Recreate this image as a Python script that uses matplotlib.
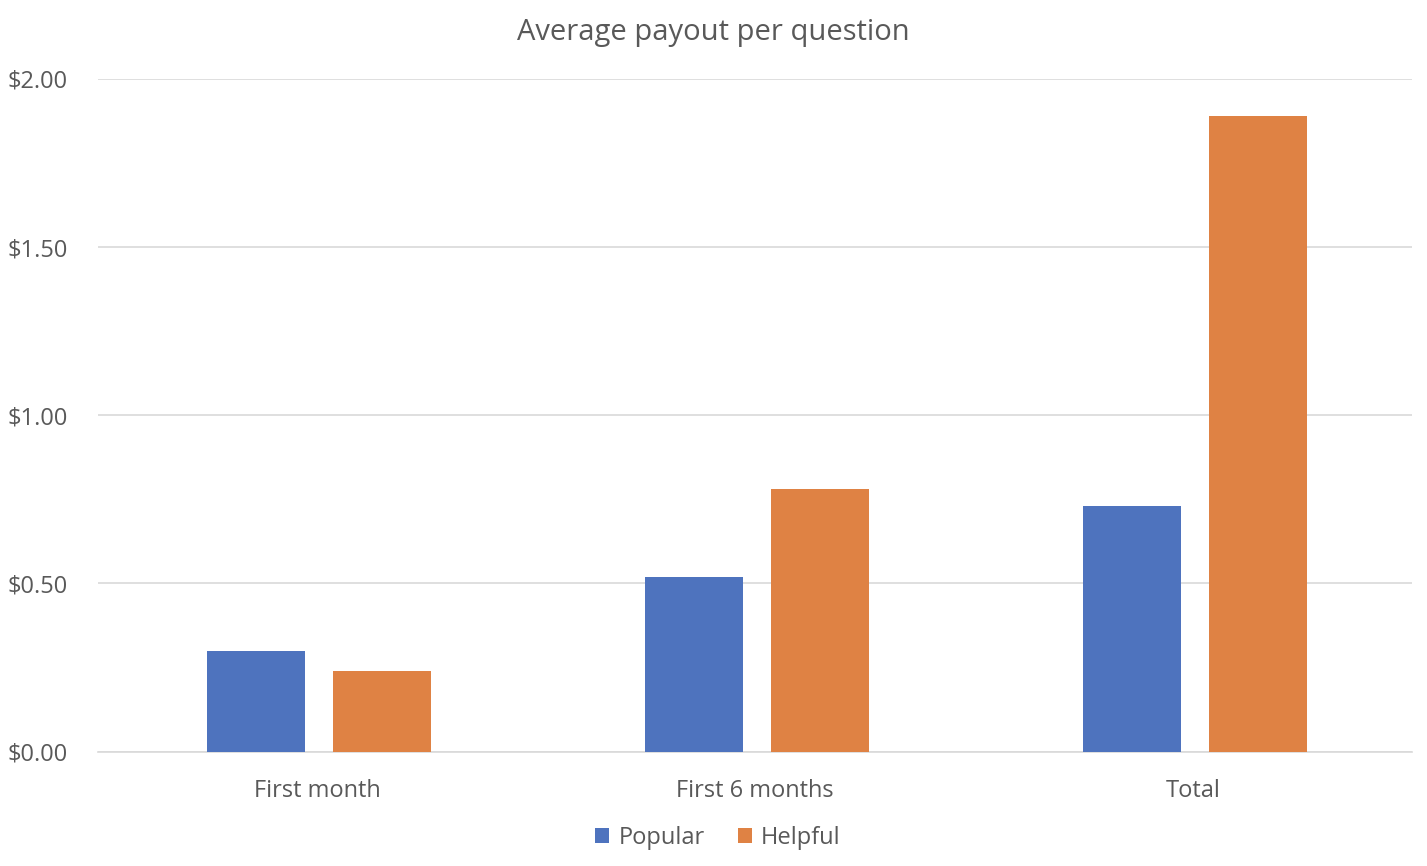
import matplotlib.pyplot as plt
import numpy as np
from matplotlib.ticker import FuncFormatter

categories = ["First month", "First 6 months", "Total"]
popular = [0.30, 0.52, 0.73]
helpful = [0.24, 0.78, 1.89]

plt.rcParams['font.family'] = ['Open Sans', 'DejaVu Sans']
grey = "#595959"

fig = plt.figure(figsize=(14.27, 8.66), dpi=100)
ax = fig.add_axes([0.0687, 0.1322, 0.9208, 0.7766])

x = np.arange(len(categories))
w = 0.224
off = (w + 0.064) / 2
ax.bar(x - off + 0.004, popular, w, color="#4E73BE", label="Popular", zorder=3)
ax.bar(x + off + 0.004, helpful, w, color="#DF8244", label="Helpful", zorder=3)

ax.set_xlim(-0.5, 2.5)
ax.set_ylim(0, 2.0)
ax.set_yticks([0, 0.5, 1.0, 1.5, 2.0])
ax.yaxis.set_major_formatter(FuncFormatter(lambda v, p: "${:.2f}".format(v)))
ax.set_xticks(x)
ax.set_xticklabels(categories)
ax.grid(axis="y", color="#D9D9D9", linewidth=1.2, zorder=0)
for s in ["top", "right", "left"]:
    ax.spines[s].set_visible(False)
ax.spines["bottom"].set_color("#D9D9D9")
ax.spines["bottom"].set_linewidth(1.2)
ax.tick_params(axis="both", length=0, labelsize=17, colors=grey)
ax.tick_params(axis="x", pad=20)
for lbl in ax.get_yticklabels():
    lbl.set_horizontalalignment("left")
ax.yaxis.set_tick_params(pad=65)

fig.suptitle("Average payout per question", y=0.979, fontsize=21, color=grey)
fig.legend(loc="center", bbox_to_anchor=(0.503, 0.032), ncol=2, frameon=False,
           fontsize=17, labelcolor=grey, handlelength=0.6, handleheight=0.6,
           handletextpad=0.4, columnspacing=1.4)

fig.savefig("out.png", dpi=100)
